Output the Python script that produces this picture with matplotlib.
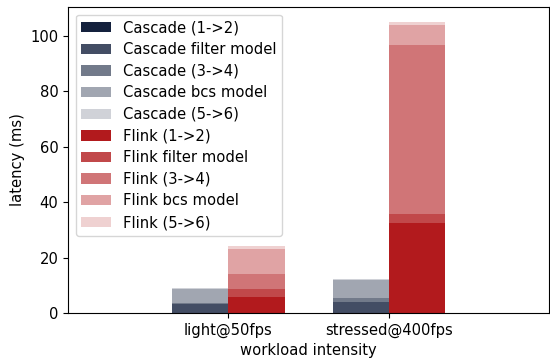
import numpy as np
import matplotlib
matplotlib.use("Agg")
import matplotlib.pyplot as plt

workloads = ["light@50fps", "stressed@400fps"]
stages = ["(1->2)", "filter model", "(3->4)", "bcs model", "(5->6)"]

cascade = [
    [0.1, 0.1],    # 1->2
    [3.0, 4.0],    # filter model
    [0.6, 1.1],    # 3->4
    [4.95, 6.75],  # bcs model
    [0.25, 0.3],   # 5->6
]
flink = [
    [5.9, 32.6],
    [2.8, 3.2],
    [5.4, 61.0],
    [9.0, 7.2],
    [1.1, 1.2],
]

cascade_color = "#14213d"
flink_color = "#b21a1d"
alphas = [1.0, 0.8, 0.6, 0.4, 0.2]

plt.rcParams["font.size"] = 10.6

fig = plt.figure(figsize=(5.5, 3.58), dpi=100)
ax = fig.add_axes([0.124, 0.126, 0.874, 0.854])

x = np.arange(len(workloads))
w = 0.35

bottom = np.zeros(len(workloads))
for st, vals, a in zip(stages, cascade, alphas):
    ax.bar(x - w, vals, w, bottom=bottom, align="edge",
           color=cascade_color, alpha=a, label="Cascade " + st)
    bottom += np.array(vals)

bottom = np.zeros(len(workloads))
for st, vals, a in zip(stages, flink, alphas):
    ax.bar(x, vals, w, bottom=bottom, align="edge", color=flink_color,
           alpha=a, label="Flink " + st)
    bottom += np.array(vals)

ax.set_xlim(-1, 2)
ax.set_xticks(x)
ax.set_xticklabels(workloads)
ax.set_xlabel("workload intensity")
ax.set_ylabel("latency (ms)")
ax.legend(loc="upper left", labelspacing=0.45)

fig.savefig("out.png")
